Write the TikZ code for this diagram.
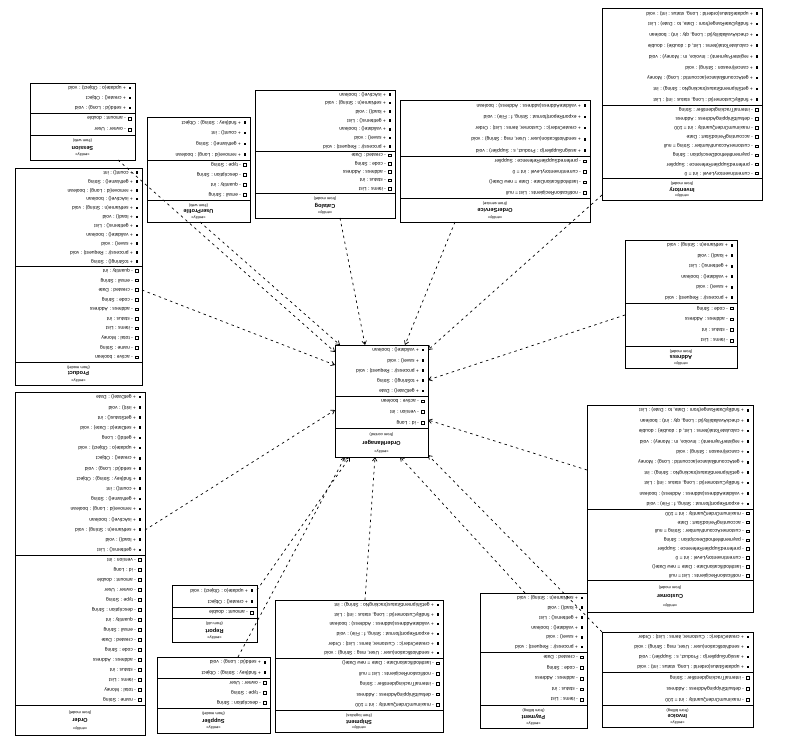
\documentclass[tikz,border=0pt]{standalone}
\usepackage{fontspec}
\setmainfont{Liberation Sans}
\usetikzlibrary{arrows.meta}

% running counters that pick the member texts
\newcount\opctr
\newcount\atctr

\newcommand\shortop[1]{\ifcase#1 + getId() : Long\or + setId(id : Long) : void\or + getName() : String\or + setName(n : String) : void\or + validate() : boolean\or + toString() : String\or + getStatus() : int\or + update(o : Object) : void\or + find(key : String) : Object\or + remove(id : Long) : boolean\or + load() : void\or + save() : void\or + getDate() : Date\or + setDate(d : Date) : void\or + create() : Object\or + count() : int\or + isActive() : boolean\or + getItems() : List\or + process(r : Request) : void\or + init() : void\fi}

\newcommand\longop[1]{\ifcase#1 + findByCustomer(id : Long, status : int) : List\or + createOrder(c : Customer, items : List) : Order\or + updateStatus(orderId : Long, status : int) : void\or + calculateTotal(items : List, d : double) : double\or + getAccountBalance(accountId : Long) : Money\or + validateAddress(address : Address) : boolean\or + sendNotification(user : User, msg : String) : void\or + findByDateRange(from : Date, to : Date) : List\or + registerPayment(i : Invoice, m : Money) : void\or + getShipmentStatus(trackingNo : String) : int\or + exportReport(format : String, f : File) : void\or + assignSupplier(p : Product, s : Supplier) : void\or + checkAvailability(id : Long, qty : int) : boolean\or + cancel(reason : String) : void\fi}

\newcommand\shortat[1]{\ifcase#1 - id : Long\or - name : String\or - status : int\or - created : Date\or - description : String\or - amount : double\or - active : boolean\or - items : List\or - code : String\or - quantity : int\or - owner : User\or - version : int\or - total : Money\or - address : Address\or - email : String\or - type : String\fi}

\newcommand\longat[1]{\ifcase#1 - customerAccountNumber : String = null\or - defaultShippingAddress : Address\or - lastModificationDate : Date = new Date()\or - paymentMethodDescription : String\or - maximumOrderQuantity : int = 100\or - notificationRecipients : List = null\or - preferredSupplierReference : Supplier\or - accountingPeriodStart : Date\or - internalTrackingIdentifier : String\or - currentInventoryLevel : int = 0\fi}

\tikzset{
  boxline/.style={draw=black,line width=0.9pt},
  member/.style={inner sep=0pt,anchor=west,rotate=180,
    font=\fontsize{4.9}{5.5}\selectfont},
  cname/.style={inner sep=0pt,rotate=180,font=\fontsize{5.6}{6.5}\selectfont\bfseries},
  cnote/.style={inner sep=0pt,rotate=180,font=\fontsize{4}{4.5}\selectfont},
  icon/.style={fill=black},
  dep/.style={line width=0.7pt,dash pattern=on 2.5pt off 3.5pt,
    -{Straight Barb[length=3.5pt,width=4.5pt]}}
}

% class box, printed upside down: operations on top, attributes, then the name
% #1 id, #2 x1/y1/x2/y2, #3 divider1/divider2, #4 ops/attrs, #5 name, #6 package
\newcommand\clsbox[6]{%
 \foreach \xa/\ya/\xb/\yb in {#2}{%
 \foreach \da/\db in {#3}{%
 \foreach \na/\nb in {#4}{%
   \draw[boxline] (\xa,\ya) rectangle (\xb,\yb);
   \draw[boxline] (\xa,\da) -- (\xb,\da) (\xa,\db) -- (\xb,\db);
   \pgfmathtruncatemacro\wide{(\xb-\xa)>140 ? 1 : 0}
   \pgfmathsetmacro\sta{(\da-\ya)/\na}
   \foreach \k in {1,...,\na}{%
     \pgfmathsetmacro\yy{\ya+(\k-0.5)*\sta}
     \global\advance\opctr by 1
     \ifnum\wide=1
       \pgfmathtruncatemacro\ix{mod(\the\opctr*5,14)}
       \node[member] at (\xb-9,\yy) {\longop{\ix}};
     \else
       \pgfmathtruncatemacro\ix{mod(\the\opctr*7,20)}
       \node[member] at (\xb-9,\yy) {\shortop{\ix}};
     \fi
     \fill[icon] (\xb-6.4,\yy-1.3) rectangle ++(2.6,2.6);
   }
   \pgfmathsetmacro\stb{(\db-\da)/\nb}
   \foreach \k in {1,...,\nb}{%
     \pgfmathsetmacro\yy{\da+(\k-0.5)*\stb}
     \global\advance\atctr by 1
     \ifnum\wide=1
       \pgfmathtruncatemacro\ix{mod(\the\atctr*3,10)}
       \node[member] at (\xb-9,\yy) {\longat{\ix}};
     \else
       \pgfmathtruncatemacro\ix{mod(\the\atctr*5,16)}
       \node[member] at (\xb-9,\yy) {\shortat{\ix}};
     \fi
     \draw[line width=0.5pt] (\xb-6.4,\yy-1.3) rectangle ++(2.6,2.6);
   }
   \pgfmathsetmacro\xm{(\xa+\xb)/2}
   \node[cnote] at (\xm,{\db+0.24*(\yb-\db)}) {(from #6)};
   \node[cname] at (\xm,{\db+0.52*(\yb-\db)}) {#5};
   \node[cnote] at (\xm,{\db+0.80*(\yb-\db)}) {<<entity>>};
 }}}%
}

\begin{document}
\begin{tikzpicture}[x=1pt,y=-1pt]
\useasboundingbox (0,0) rectangle (794,742);
\fill[white] (0,0) rectangle (794,742);

\clsbox{A}{30/83/135/160}{113/135}{3/2}{Session}{web}
\clsbox{B}{147/117/250/222}{160/200}{4/4}{UserProfile}{web}
\clsbox{C}{255/90/395/218}{151/193}{7/5}{Catalog}{model}
\clsbox{D}{400/100/590/222}{156/198}{5/4}{OrderService}{service}
\clsbox{E}{602/8/762/200}{105/178}{9/8}{Inventory}{model}
\clsbox{F}{625/240/737/368}{303/346}{6/4}{Address}{model}
\clsbox{G}{587/405/753/612}{509/580}{10/8}{Customer}{model}
\clsbox{H}{602/632/753/727}{672/705}{4/3}{Invoice}{billing}
\clsbox{I}{480/593/587/728}{652/705}{6/5}{Payment}{billing}
\clsbox{J}{275/600/443/732}{658/710}{6/5}{Shipment}{logistics}
\clsbox{K}{172/585/257/642}{607/618}{2/1}{Report}{util}
\clsbox{L}{157/657/270/733}{678/708}{2/3}{Supplier}{model}
\clsbox{M}{15/168/142/385}{266/362}{11/10}{Product}{model}
\clsbox{N}{15/392/145/735}{555/705}{16/15}{Order}{model}
\clsbox{Z}{335/345/428/457}{396/428}{5/3}{OrderManager}{control}

% connector end points on the outer classes
\coordinate (A-c) at (118,160);
\coordinate (B-c) at (200,222);
\coordinate (C-c) at (340,218);
\coordinate (D-c) at (455,222);
\coordinate (E-c) at (602,195);
\coordinate (F-c) at (625,315);
\coordinate (G-c) at (587,470);
\coordinate (H-c) at (602,632);
\coordinate (I-c) at (525,593);
\coordinate (J-c) at (365,600);
\coordinate (K-c) at (257,590);
\coordinate (L-c) at (238,657);
\coordinate (M-c) at (142,290);
\coordinate (N-c) at (145,530);
% connector end points on the central class
\coordinate (Z-A) at (335,352);
\coordinate (Z-B) at (340,345);
\coordinate (Z-C) at (365,345);
\coordinate (Z-D) at (405,345);
\coordinate (Z-E) at (428,350);
\coordinate (Z-F) at (428,380);
\coordinate (Z-G) at (428,420);
\coordinate (Z-H) at (428,455);
\coordinate (Z-I) at (400,457);
\coordinate (Z-J) at (375,457);
\coordinate (Z-K) at (350,457);
\coordinate (Z-L) at (345,457);
\coordinate (Z-M) at (335,365);
\coordinate (Z-N) at (335,410);

\foreach \c in {A,B,C,D,E,F,G,H,I,J,K,L,M,N}
  \draw[dep] (\c-c) -- (Z-\c);
\end{tikzpicture}
\end{document}
